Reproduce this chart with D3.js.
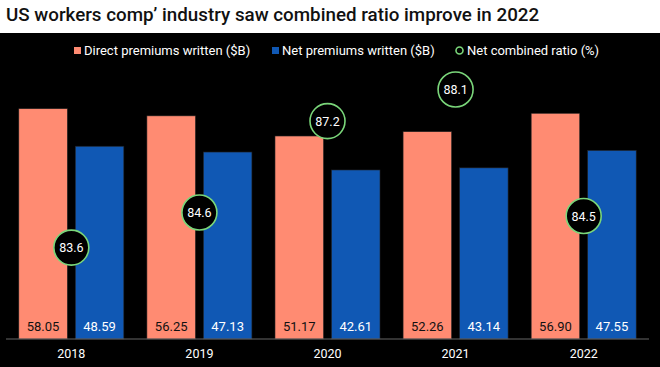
<!DOCTYPE html>
<html><head><meta charset="utf-8">
<script src="https://cdn.jsdelivr.net/npm/d3@7"></script>
<style>body{margin:0;background:#fff;} svg{display:block;}</style>
</head><body>
<script>
const years = ["2018","2019","2020","2021","2022"];
const directPremiums = [58.05, 56.25, 51.17, 52.26, 56.90];
const netPremiums = [48.59, 47.13, 42.61, 43.14, 47.55];
const combinedRatio = [83.6, 84.6, 87.2, 88.1, 84.5];
const seriesNames = ["Direct premiums written ($B)", "Net premiums written ($B)", "Net combined ratio (%)"];
const colors = {direct:"#ff8b72", net:"#1058b4", ratio:"#7ad67a"};

const W=660,H=367;
const svg=d3.select("body").append("svg").attr("width",W).attr("height",H);
const font="Roboto, 'Noto Sans', sans-serif";
svg.append("rect").attr("width",W).attr("height",H).attr("fill","#fff");
svg.append("rect").attr("y",33).attr("width",W).attr("height",H-33).attr("fill","#000");
svg.append("text").attr("x",6).attr("y",21).attr("font-family",font).attr("font-weight",500)
  .attr("font-size",18.8).attr("fill","#111").text("US workers comp\u2019 industry saw combined ratio improve in 2022");

const baseY=339, left=6, right=649;
const x0=d3.scaleBand().domain(years).range([left,right]).paddingInner(0.18).paddingOuter(0.1);
const x1=d3.scaleBand().domain(["direct","net"]).range([0,x0.bandwidth()]).paddingInner(0.14);
const y=d3.scaleLinear().domain([0,60]).range([baseY, baseY-60*3.967]);
const y2=d3.scaleLinear().domain([81,88]).range([baseY, 93]);

const data=years.map((yr,i)=>({yr, direct:directPremiums[i], net:netPremiums[i], ratio:combinedRatio[i]}));
const g=svg.append("g");
data.forEach(d=>{
  ["direct","net"].forEach(k=>{
    g.append("rect").attr("x",x0(d.yr)+x1(k)).attr("y",y(d[k])).attr("width",x1.bandwidth())
      .attr("height",baseY-y(d[k])).attr("fill",colors[k]).attr("stroke","#222").attr("stroke-width",0.6);
    g.append("text").attr("x",x0(d.yr)+x1(k)+x1.bandwidth()/2).attr("y",331)
      .attr("text-anchor","middle").attr("font-family",font).attr("font-size",13)
      .attr("fill",k==="direct"?"#111":"#fff").text(d[k].toFixed(2));
  });
});
// axis
const ax=svg.append("g").attr("transform",`translate(0,${baseY})`).call(d3.axisBottom(x0).tickSize(0).tickPadding(10));
ax.select(".domain").attr("stroke","#666").attr("d",`M${left},0H${right}`);
ax.selectAll("text").attr("fill","#fff").attr("font-family",font).attr("font-size",12.5);

// ratio circles
data.forEach(d=>{
  const cx=x0(d.yr)+x0.bandwidth()/2, cy=y2(d.ratio);
  svg.append("circle").attr("cx",cx).attr("cy",cy).attr("r",17.5).attr("fill","#000")
    .attr("stroke",colors.ratio).attr("stroke-width",1.6);
  svg.append("text").attr("x",cx).attr("y",cy+4.5).attr("text-anchor","middle")
    .attr("font-family",font).attr("font-size",12.5).attr("fill","#fff").text(d.ratio.toFixed(1));
});

// legend
const lg=svg.append("g").attr("font-family",font).attr("font-size",13).attr("fill","#fff");
lg.append("rect").attr("x",74).attr("y",47).attr("width",7).attr("height",7).attr("fill",colors.direct);
lg.append("text").attr("x",84).attr("y",55).text(seriesNames[0]);
lg.append("rect").attr("x",272).attr("y",47).attr("width",7).attr("height",7).attr("fill",colors.net);
lg.append("text").attr("x",282).attr("y",55).text(seriesNames[1]);
lg.append("circle").attr("cx",459.5).attr("cy",50.5).attr("r",3.5).attr("fill","none").attr("stroke",colors.ratio).attr("stroke-width",1.6);
lg.append("text").attr("x",467).attr("y",55).text(seriesNames[2]);
</script>
</body></html>
